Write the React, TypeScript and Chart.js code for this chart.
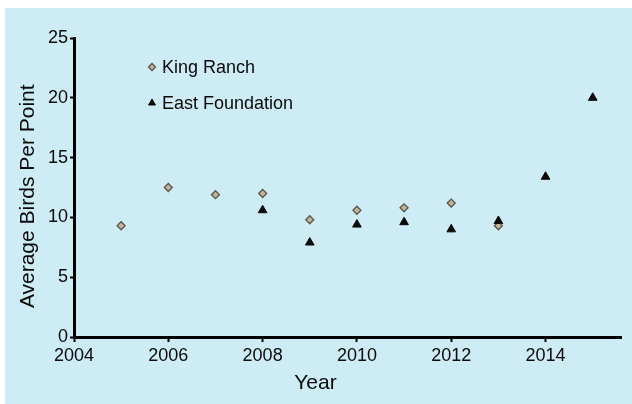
import React, { useEffect, useRef } from "react";
import { Chart, registerables } from "chart.js";
import { drawPoint } from "chart.js/helpers";

Chart.register(...registerables);

const kingRanchYears = [2005, 2006, 2007, 2008, 2009, 2010, 2011, 2012, 2013];
const kingRanchValues = [9.3, 12.5, 11.9, 12.0, 9.8, 10.6, 10.8, 11.2, 9.3];
const eastYears = [2008, 2009, 2010, 2011, 2012, 2013, 2014, 2015];
const eastValues = [10.6, 7.9, 9.4, 9.6, 9.0, 9.7, 13.4, 20.0];
const xTickValues = [2004, 2006, 2008, 2010, 2012, 2014];
const yTickValues = [0, 5, 10, 15, 20, 25];
const seriesNames = ["King Ranch", "East Foundation"];

const FONT = '"Liberation Sans", Arial, Helvetica, sans-serif';

const insideLegend = {
  id: "insideLegend",
  afterDatasetsDraw(chart: any) {
    const { ctx, chartArea } = chart;
    [0, 1].forEach((i) => {
      const d = chart.data.datasets[i];
      const x = chartArea.left + 78;
      const y = chartArea.top + 29 + i * 36;
      ctx.save();
      ctx.fillStyle = d.pointBackgroundColor;
      ctx.strokeStyle = d.pointBorderColor;
      ctx.lineWidth = d.pointBorderWidth;
      drawPoint(
        ctx,
        {
          pointStyle: d.pointStyle,
          radius: i === 0 ? 3.5 : 4,
          borderWidth: d.pointBorderWidth,
          rotation: 0,
        } as any,
        x,
        y
      );
      ctx.fillStyle = "#0a0a0a";
      ctx.font = `18px ${FONT}`;
      ctx.textBaseline = "middle";
      ctx.textAlign = "left";
      ctx.fillText(d.label, x + 10, y + 1);
      ctx.restore();
    });
  },
};

export default function App() {
  const ref = useRef<HTMLCanvasElement>(null);

  useEffect(() => {
    if (!ref.current) return;
    Chart.defaults.font.family = FONT;
    const chart = new Chart(ref.current, {
      type: "scatter",
      data: {
        datasets: [
          {
            label: seriesNames[0],
            data: kingRanchYears.map((x, i) => ({ x, y: kingRanchValues[i] })),
            pointStyle: "rectRot",
            pointRadius: 4,
            pointBackgroundColor: "#c4b397",
            pointBorderColor: "#5a564e",
            pointBorderWidth: 1.3,
            order: 1,
          } as any,
          {
            label: seriesNames[1],
            data: eastYears.map((x, i) => ({ x, y: eastValues[i] })),
            pointStyle: "triangle",
            pointRadius: 5,
            pointBackgroundColor: "#0a0a0a",
            pointBorderColor: "#0a0a0a",
            pointBorderWidth: 1,
            order: 0,
          } as any,
        ],
      },
      options: {
        responsive: false,
        animation: false,
        layout: { padding: { top: 30, right: 11, left: 0, bottom: 0 } },
        plugins: {
          legend: { display: false },
          tooltip: { enabled: false },
        },
        scales: {
          x: {
            type: "linear",
            min: 2004,
            max: 2015.6,
            afterBuildTicks: (scale: any) => {
              scale.ticks = xTickValues.map((v) => ({ value: v }));
            },
            afterFit: (scale: any) => {
              scale.height = 67;
            },
            ticks: {
              color: "#0a0a0a",
              font: { size: 18 },
              padding: 3,
              maxRotation: 0,
              autoSkip: false,
              callback: (v: any) => String(v),
            },
            grid: {
              display: true,
              drawOnChartArea: false,
              color: "rgba(0,0,0,0)",
              tickColor: "#000",
              tickLength: 5,
              tickWidth: 2,
            },
            border: { display: true, color: "#000", width: 3 },
            title: {
              display: true,
              text: "Year           ",
              color: "#0a0a0a",
              font: { size: 21 },
              padding: { top: 0, bottom: 8 },
            },
          },
          y: {
            type: "linear",
            min: 0,
            max: 25,
            afterBuildTicks: (scale: any) => {
              scale.ticks = yTickValues.map((v) => ({ value: v }));
            },
            afterFit: (scale: any) => {
              scale.width = 69;
            },
            ticks: {
              color: "#0a0a0a",
              font: { size: 18 },
              padding: 2,
            },
            grid: {
              display: true,
              drawOnChartArea: false,
              color: "rgba(0,0,0,0)",
              tickColor: "#000",
              tickLength: 4,
              tickWidth: 2,
            },
            border: { display: true, color: "#000", width: 3 },
            title: {
              display: true,
              text: "Average Birds Per Point   ",
              color: "#0a0a0a",
              font: { size: 21 },
              padding: { top: 11, bottom: 0 },
            },
          },
        },
      },
      plugins: [insideLegend],
    });
    return () => chart.destroy();
  }, []);

  return (
    <div style={{ position: "fixed", inset: 0, background: "#ffffff" }}>
      <div
        style={{
          position: "absolute",
          left: 5,
          top: 8,
          width: 627,
          height: 396,
          background: "#cdecf5",
        }}
      >
        <canvas ref={ref} width={627} height={396} style={{ display: "block" }} />
      </div>
    </div>
  );
}
